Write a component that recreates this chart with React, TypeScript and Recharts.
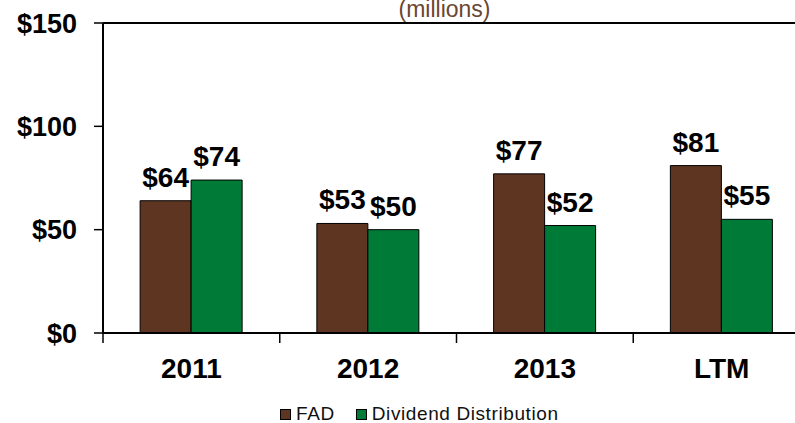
import {
  Bar,
  BarChart,
  LabelList,
  Legend,
  ReferenceLine,
  XAxis,
  YAxis,
} from "recharts";

const PERIODS = ["2011", "2012", "2013", "LTM"];
const FAD = [64, 53, 77, 81];
const DIVIDENDS = [74, 50, 52, 55];
const Y_TICKS = [0, 50, 100, 150];

const COLORS = {
  fad: "#5e3520",
  dividend: "#007a37",
  title: "#6b4630",
  ink: "#000000",
};

const FONT = '"Liberation Sans", Arial, sans-serif';

const data = PERIODS.map((period, i) => ({
  period,
  fad: FAD[i],
  dividend: DIVIDENDS[i],
}));

const dollars = (value: unknown) => `$${value}`;

// category label plus a tick mark on the left edge of each band
function PeriodTick(props: any) {
  const { x, y, payload } = props;
  const half = payload?.offset ?? 0;
  return (
    <g>
      <line
        stroke={COLORS.ink}
        strokeWidth={1.5}
        x1={x - half}
        x2={x - half}
        y1={333}
        y2={343}
      />
      <text
        dy="0.71em"
        fill={COLORS.ink}
        fontFamily={FONT}
        fontSize={28}
        fontWeight="bold"
        textAnchor="middle"
        x={x}
        y={y}
      >
        {payload.value}
      </text>
    </g>
  );
}

function LegendBox() {
  const items = [
    { label: "FAD", color: COLORS.fad },
    { label: "Dividend Distribution", color: COLORS.dividend },
  ];
  return (
    <div
      style={{
        alignItems: "center",
        display: "flex",
        fontFamily: FONT,
        fontSize: 19,
        height: 18,
        letterSpacing: "0.6px",
        lineHeight: "18px",
        color: "#111",
        whiteSpace: "nowrap",
      }}
    >
      {items.map((item, i) => (
        <div
          key={item.label}
          style={{
            alignItems: "center",
            display: "flex",
            marginLeft: i === 0 ? 0 : 21,
          }}
        >
          <span
            style={{
              background: item.color,
              border: "1px solid #000",
              boxSizing: "border-box",
              display: "inline-block",
              height: 11,
              marginRight: 5,
              width: 11,
            }}
          />
          <span>{item.label}</span>
        </div>
      ))}
    </div>
  );
}

export default function App() {
  return (
    <div
      style={{
        height: 423,
        overflow: "hidden",
        position: "relative",
        width: 795,
      }}
    >
      <style>{"body { margin: 0; }"}</style>
      <BarChart
        barCategoryGap="21%"
        barGap={0}
        data={data}
        height={423}
        margin={{ bottom: 0, left: 0, right: 20, top: 23 }}
        style={{ fontFamily: FONT }}
        width={830}
      >
        <XAxis
          axisLine={{ stroke: COLORS.ink, strokeWidth: 2 }}
          dataKey="period"
          height={72}
          interval={0}
          tick={<PeriodTick />}
          tickLine={false}
          tickMargin={25}
          tickSize={0}
        />
        <YAxis
          axisLine={{ stroke: COLORS.ink, strokeWidth: 2 }}
          domain={[0, 150]}
          tick={{
            fill: COLORS.ink,
            fontFamily: FONT,
            fontSize: 27,
            fontWeight: "bold",
          }}
          tickFormatter={dollars}
          tickLine={{ stroke: COLORS.ink, strokeWidth: 1.5 }}
          tickMargin={17}
          tickSize={9}
          ticks={Y_TICKS}
          width={103}
        />
        <ReferenceLine
          ifOverflow="extendDomain"
          label={{
            value: "(millions)",
            position: "top",
            offset: 6,
            dx: -12,
            fill: COLORS.title,
            fontFamily: FONT,
            fontSize: 23,
          }}
          stroke={COLORS.ink}
          strokeWidth={2}
          y={150}
        />
        <Legend
          content={<LegendBox />}
          verticalAlign="bottom"
          wrapperStyle={{ left: 280, top: 405, width: 420, height: 18 }}
        />
        <Bar
          dataKey="fad"
          fill={COLORS.fad}
          isAnimationActive={false}
          name="FAD"
          stroke={COLORS.ink}
          strokeWidth={1}
        >
          <LabelList
            dataKey="fad"
            fill={COLORS.ink}
            fontFamily={FONT}
            fontSize={28}
            fontWeight="bold"
            formatter={dollars}
            offset={14}
            position="top"
          />
        </Bar>
        <Bar
          dataKey="dividend"
          fill={COLORS.dividend}
          isAnimationActive={false}
          name="Dividend Distribution"
          stroke={COLORS.ink}
          strokeWidth={1}
        >
          <LabelList
            dataKey="dividend"
            fill={COLORS.ink}
            fontFamily={FONT}
            fontSize={28}
            fontWeight="bold"
            formatter={dollars}
            offset={14}
            position="top"
          />
        </Bar>
      </BarChart>
    </div>
  );
}
